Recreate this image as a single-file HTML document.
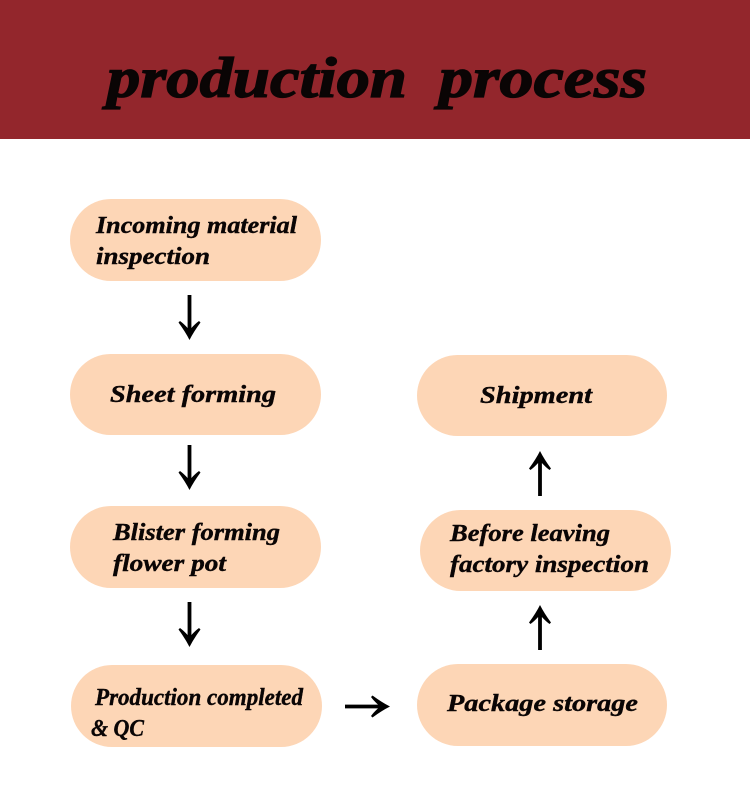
<!DOCTYPE html>
<html><head><meta charset="utf-8"><style>
html,body{margin:0;padding:0;background:#fff}
svg{display:block}
text{font-family:"Liberation Serif",serif;font-weight:bold;font-style:italic;fill:#0a0505;stroke:#0a0505;stroke-width:.4px;font-size:24px}
.t{font-size:57px;stroke-width:1.3px}
</style></head><body>
<svg width="750" height="800" viewBox="0 0 750 800" xmlns="http://www.w3.org/2000/svg">
<defs><path id="d" d="M-1.900 -45H1.900V-12Q6 -16.500 9.500 -19L11 -17.500Q4 -8 0 0Q-4 -8 -11 -17.500L-9.500 -19Q-6 -16.500 -1.900 -12Z" fill="#000"/></defs>
<rect width="750" height="800" fill="#fff"/>
<rect width="750" height="139" fill="#93262c"/>
<text class="t" x="107" y="97" textLength="300" lengthAdjust="spacingAndGlyphs">production</text>
<text class="t" x="439" y="97" textLength="208" lengthAdjust="spacingAndGlyphs">process</text>
<g fill="#fdd6b6">
<rect x="70" y="199" width="251" height="82" rx="41"/>
<rect x="70" y="354" width="251" height="81" rx="40.5"/>
<rect x="70" y="506" width="251" height="82" rx="41"/>
<rect x="71" y="665" width="251" height="82" rx="41"/>
<rect x="417" y="355" width="250" height="81" rx="40.5"/>
<rect x="420" y="510" width="251" height="81" rx="40.5"/>
<rect x="417" y="664" width="250" height="82" rx="41"/>
</g>
<text x="96" y="233" textLength="201" lengthAdjust="spacingAndGlyphs">Incoming material</text>
<text x="96" y="264" textLength="114" lengthAdjust="spacingAndGlyphs">inspection</text>
<text x="110" y="402" textLength="166" lengthAdjust="spacingAndGlyphs">Sheet forming</text>
<text x="113" y="540" textLength="167" lengthAdjust="spacingAndGlyphs">Blister forming</text>
<text x="113" y="571" textLength="113" lengthAdjust="spacingAndGlyphs">flower pot</text>
<text x="95" y="705" textLength="208" lengthAdjust="spacingAndGlyphs">Production completed</text>
<text x="91" y="736" textLength="53" lengthAdjust="spacingAndGlyphs">&amp; QC</text>
<text x="480" y="403" textLength="112" lengthAdjust="spacingAndGlyphs">Shipment</text>
<text x="450" y="541" textLength="160" lengthAdjust="spacingAndGlyphs">Before leaving</text>
<text x="450" y="572" textLength="199" lengthAdjust="spacingAndGlyphs">factory inspection</text>
<text x="447" y="711" textLength="191" lengthAdjust="spacingAndGlyphs">Package storage</text>
<use href="#d" transform="translate(189.500 340)"/>
<use href="#d" transform="translate(189.500 490)"/>
<use href="#d" transform="translate(189.500 647)"/>
<use href="#d" transform="translate(540 451) rotate(180)"/>
<use href="#d" transform="translate(540 605) rotate(180)"/>
<use href="#d" transform="translate(390 706.500) rotate(-90)"/>
</svg>
</body></html>
